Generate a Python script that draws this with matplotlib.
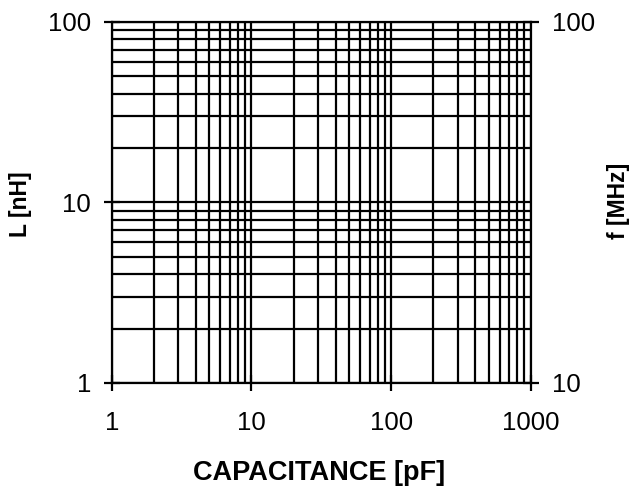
import matplotlib
matplotlib.use("Agg")
import matplotlib.pyplot as plt
from matplotlib.ticker import FixedLocator, NullFormatter

plt.rcParams['font.family'] = ['Liberation Sans', 'DejaVu Sans']

# axis ranges and tick labels
x_range = [1, 1000]
y_range = [1, 100]
f_range = [10, 100]
x_ticks = [1, 10, 100, 1000]
y_ticks = [1, 10, 100]
f_ticks = [10, 100]

# grid positions: 1..9 times each decade
x_grid = [m * 10 ** d for d in range(3) for m in range(1, 10)] + [1000]
y_grid = [m * 10 ** d for d in range(2) for m in range(1, 10)] + [100]

fig = plt.figure(figsize=(6.35, 4.86), dpi=100)
ax = fig.add_axes([0.176, 0.212, 0.66, 0.743])
ax.set_xscale('log')
ax.set_yscale('log')
ax.set_xlim(x_range)
ax.set_ylim(y_range)

for xv in x_grid:
    ax.axvline(xv, color='black', lw=1.6)
for yv in y_grid:
    ax.axhline(yv, color='black', lw=1.6)

for s in ax.spines.values():
    s.set_linewidth(1.6)

ax.xaxis.set_major_locator(FixedLocator(x_ticks))
ax.xaxis.set_minor_locator(FixedLocator([]))
ax.yaxis.set_major_locator(FixedLocator(y_ticks))
ax.yaxis.set_minor_locator(FixedLocator([]))
ax.set_xticklabels([str(v) for v in x_ticks])
ax.set_yticklabels([str(v) for v in y_ticks])
ax.tick_params(axis='both', which='major', direction='inout', length=12,
               width=1.6, labelsize=18.5, pad=9)
ax.tick_params(axis='x', pad=14)

ax2 = ax.twinx()
ax2.set_yscale('log')
ax2.set_ylim(f_range)
ax2.yaxis.set_major_locator(FixedLocator(f_ticks))
ax2.yaxis.set_minor_locator(FixedLocator([]))
ax2.yaxis.set_minor_formatter(NullFormatter())
ax2.set_yticklabels([str(v) for v in f_ticks])
ax2.tick_params(axis='y', direction='inout', length=12, width=1.6,
                labelsize=18.5, pad=9)
for s in ax2.spines.values():
    s.set_visible(False)

fig.text(319 / 635, 1 - 473 / 486, 'CAPACITANCE [pF]', fontsize=19.5,
         fontweight='bold', ha='center', va='center')
fig.text(20 / 635, 1 - 204 / 486, 'L [nH]', fontsize=16.5, fontweight='bold',
         rotation=90, ha='center', va='center')
fig.text(618 / 635, 1 - 201 / 486, 'f [MHz]', fontsize=16.5, fontweight='bold',
         rotation=90, ha='center', va='center')

fig.savefig('out.png', dpi=100)
